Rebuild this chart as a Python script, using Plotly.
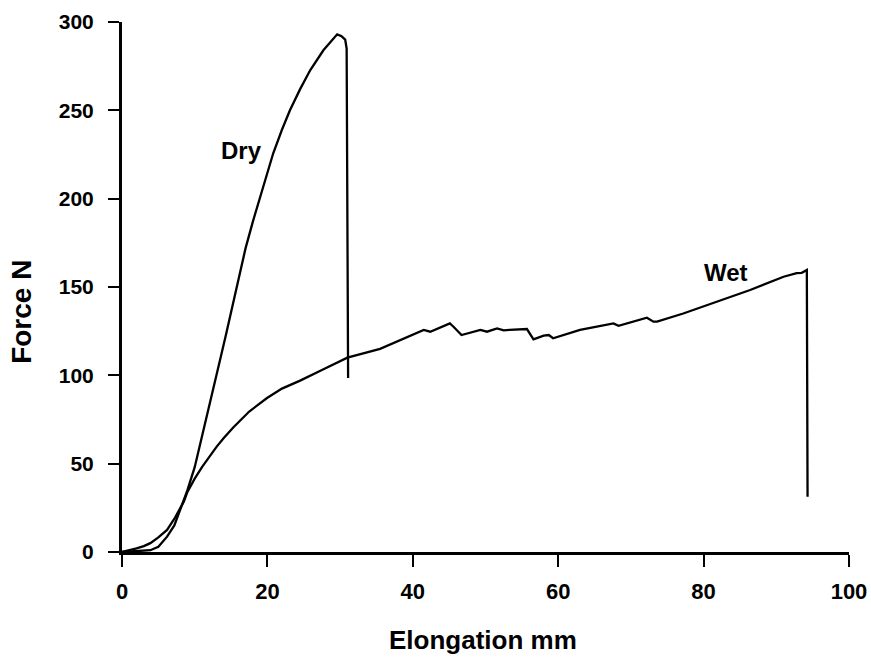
import plotly.graph_objects as go

# Dry specimen (elongation mm, force N)
dry_x = [0, 1, 2, 3, 3.9, 5, 6.2, 7.2, 8.0, 9.0, 10.0, 10.8, 11.5, 12.0, 12.8, 13.5, 14.3, 15,
         16, 17, 18, 19, 20, 20.8, 22, 23.1, 24.5, 25.9, 27.7, 28.5, 29.0, 29.6, 30.2, 30.7,
         30.9, 31.0, 31.1]
dry_y = [0, 0.2, 0.5, 0.8, 1, 3, 8.7, 15, 23.8, 35, 48, 61.7, 73, 82, 97, 109, 123, 136,
         155, 172, 187, 201, 214, 225.7, 239, 250, 262, 272.8, 284, 288, 290.5, 293, 292, 290,
         285, 200, 98.5]

# Wet specimen
wet_x = [0, 1, 2, 3, 3.9, 5, 6.2, 7.3, 8.5, 9.0, 10.0, 11.0, 12.0, 13.0, 14.0, 15.3, 17.5,
         19.9, 22, 24.5, 27.5, 31, 35.5, 41.5, 42.4, 43.5, 45.1, 45.6, 46.7, 49.3, 50.2, 51.6,
         52.5, 53.3, 55.7, 56.6, 58.0, 58.7, 59.3, 63.0, 67.6, 68.3, 72.2, 73.1, 73.6, 77.2,
         81.8, 86.4, 91.0, 92.8, 93.5, 94.2, 94.3]
wet_y = [0, 0.8, 2, 3.3, 5, 8.3, 12.5, 19.5, 28.5, 34, 41.5, 48, 54, 59.5, 64.5, 70.5, 79.5,
         87, 92.5, 97, 103, 110, 115, 125.7, 124.7, 126.5, 129.4, 127.5, 122.8, 125.7, 124.7, 126.6,
         125.5, 125.7, 126.2, 120.4, 122.5, 122.8, 121, 125.7, 129.4, 128, 132.6, 130.4, 130.4, 135,
         141.7, 148.3, 155.8, 157.8, 158, 159.6, 31.3]

x_ticks = [0, 20, 40, 60, 80, 100]
y_ticks = [0, 50, 100, 150, 200, 250, 300]

labels = ["Dry", "Wet"]
label_x = [16.5, 83.1]
label_y = [227.3, 158.2]

FONT = "Arial, Liberation Sans, sans-serif"

fig = go.Figure()
fig.add_trace(go.Scatter(x=dry_x, y=dry_y, mode="lines", line=dict(color="black", width=2.3),
                         showlegend=False))
fig.add_trace(go.Scatter(x=wet_x, y=wet_y, mode="lines", line=dict(color="black", width=2.3),
                         showlegend=False))

for t, lx, ly in zip(labels, label_x, label_y):
    fig.add_annotation(x=lx, y=ly, text="<b>%s</b>" % t, showarrow=False,
                       font=dict(family=FONT, size=24, color="black"))

fig.add_annotation(xref="paper", yref="paper", x=0.496, y=-0.166,
                   text="<b>Elongation mm</b>", showarrow=False, yanchor="middle",
                   font=dict(family=FONT, size=26, color="black"))
fig.add_annotation(xref="paper", yref="paper", x=-0.1376, y=0.453,
                   text="<b>Force N</b>", showarrow=False, textangle=-90, xanchor="center",
                   font=dict(family=FONT, size=28, color="black"))

fig.update_layout(
    width=871, height=657,
    margin=dict(l=122, r=22, t=22, b=105, autoexpand=False),
    paper_bgcolor="white", plot_bgcolor="white",
    font=dict(family=FONT, color="black"),
)
fig.update_xaxes(range=[0, 100], tickvals=x_ticks, ticktext=["<b>%d</b>" % v for v in x_ticks],
                 showgrid=False, zeroline=False, showline=True, linecolor="black", linewidth=3,
                 ticks="outside", ticklen=12, tickwidth=2, tickcolor="black", automargin=False,
                 tickfont=dict(family=FONT, size=22, color="black"), ticklabelstandoff=6)
fig.update_yaxes(range=[0, 300], tickvals=y_ticks, ticktext=["<b>%d</b>" % v for v in y_ticks],
                 showgrid=False, zeroline=False, showline=True, linecolor="black", linewidth=3,
                 ticks="outside", ticklen=11, tickwidth=2, tickcolor="black", automargin=False,
                 tickfont=dict(family=FONT, size=21, color="black"), ticklabelstandoff=10)

fig.write_html("out.html", config={"displayModeBar": False},
               post_script="document.body.style.margin='0';document.body.style.overflow='hidden';")
